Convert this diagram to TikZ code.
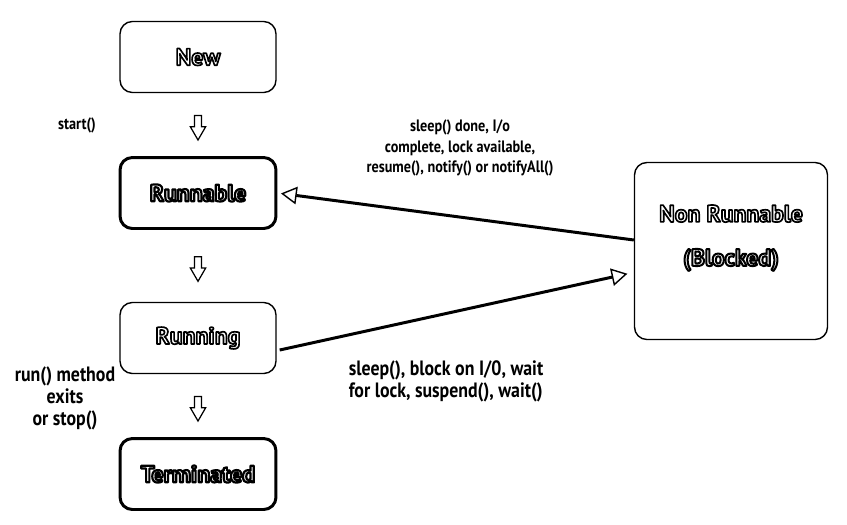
\documentclass[tikz,border=0pt]{standalone}
\usepackage{fontspec}
\setmainfont{PT Sans}
\newfontfamily\notefont[FakeStretch=0.86]{PT Sans}
\usetikzlibrary{shapes,arrows.meta,positioning,calc}

% outlined text: white fill, black stroke
\newcommand{\hollow}[2][0.95]{\special{pdf:literal direct 2 Tr #1 w 1 j 0 0 0 RG}#2\special{pdf:literal direct 0 Tr}}

\begin{document}
\begin{tikzpicture}[
    x=0.02cm, y=-0.02cm,
    state/.style={rectangle, rounded corners=7pt, draw=black, line width=0.8pt,
                  minimum width=3.12cm, minimum height=1.42cm,
                  text=white, font=\bfseries\fontsize{13.5}{15}\selectfont},
    firm/.style={state, line width=1.7pt},
    down/.style={single arrow, draw=black, line width=0.7pt,
                 shape border rotate=270, minimum height=14pt,
                 inner sep=1.7pt, single arrow head extend=2.3pt,
                 single arrow tip angle=60},
    note/.style={font=\notefont\bfseries\fontsize{9.4}{11.5}\selectfont,
                 align=center},
    big note/.style={note, font=\notefont\bfseries\fontsize{11.8}{12.5}\selectfont},
    move/.style={line width=1.7pt, shorten >=2pt,
                 -{Triangle[open, length=9pt, width=10pt, line width=0.8pt]}}]

    \useasboundingbox (0,0) rectangle (847,524);

    % states
    \node[state] (new) at (198,57) {\hollow{New}};
    \node[firm] (runnable) at (198,193) {\hollow[1.25]{Runnable}};
    \node[state] (running) at (198,338) {\hollow{Running}};
    \node[firm] (terminated) at (198,474) {\hollow[1.25]{Terminated}};
    \node[state, minimum width=3.86cm, minimum height=3.54cm] (nonrun) at (731,251) {};
    \node[text=white, font=\bfseries\fontsize{13.5}{15}\selectfont, align=center]
      (nonruntext) at ($(nonrun.center)+(0,-13)$)
      {\hollow{Non Runnable}\\[10pt]\hollow[1.15]{(Blocked)}};

    % hollow arrows between states
    \node[down] (a1) at ($(new.south)!0.5!(runnable.north)$) {};
    \node[down] (a2) at ($(runnable.south)!0.5!(running.north)$) {};
    \node[down] (a3) at ($(running.south)!0.5!(terminated.north)$) {};

    % transitions
    \draw[move] ($(nonrun.west)+(0,-11)$) -- (runnable.east);
    \draw[move] ($(running.east)+(3,12)$) -- ($(nonrun.west)+(-3,22)$);

    % labels
    \node[note] (startlbl) at (77,125) {start()};
    \node[big note] (exitlbl) at (65,398) {run() method\\exits\\or stop()};
    \node[note] (wakelbl) at (460,148)
      {sleep() done, I/o\\complete, lock available,\\resume(), notify() or notifyAll()};
    \node[big note, align=left] (waitlbl) at (446,381)
      {sleep(), block on I/0, wait\\for lock, suspend(), wait()};
\end{tikzpicture}
\end{document}
